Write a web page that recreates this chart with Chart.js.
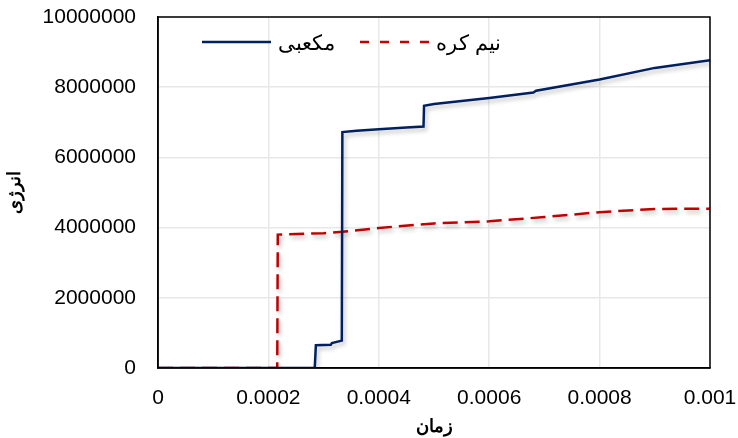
<!DOCTYPE html>
<html>
<head>
<meta charset="utf-8">
<script src="https://cdn.jsdelivr.net/npm/chart.js@4.4.1/dist/chart.umd.min.js"></script>
<style>
    body { margin: 0; background: #fff; }
    #wrap { width: 738px; height: 438px; }
</style>
</head>
<body>
<div id="wrap"><canvas id="chart"></canvas></div>
<script>
// time values and energies
const cubeTime = [0, 0.000284, 0.000286, 0.000313, 0.000315, 0.000333, 0.000334, 0.00036, 0.0004, 0.00045, 0.000481, 0.000482, 0.0005, 0.0006, 0.00068, 0.000685, 0.0008, 0.0009, 0.001];
const cubeEnergy = [0, 0, 650000, 660000, 710000, 780000, 6720000, 6760000, 6800000, 6850000, 6880000, 7470000, 7520000, 7690000, 7850000, 7900000, 8220000, 8550000, 8770000];

const hemiTime = [0, 0.000216, 0.000217, 0.0003, 0.000334, 0.0004, 0.0005, 0.0006, 0.0007, 0.0008, 0.0009, 0.001];
const hemiEnergy = [0, 0, 3800000, 3840000, 3880000, 3990000, 4120000, 4180000, 4300000, 4440000, 4530000, 4540000];

const labels = ["مکعبی", "نیم کره"];
const xTicks = [0, 0.0002, 0.0004, 0.0006, 0.0008, 0.001];

function toPoints(xs, ys) {
    return xs.map((x, i) => ({ x: x, y: ys[i] }));
}

const font = "'Liberation Sans', Arial, sans-serif";

// soft shadow under the lines, like the original
const shadowPlugin = {
    id: "shadow",
    beforeDatasetsDraw(chart) {
        const ctx = chart.ctx;
        ctx.save();
        ctx.shadowColor = "rgba(0,0,0,0.25)";
        ctx.shadowBlur = 4;
        ctx.shadowOffsetX = 2;
        ctx.shadowOffsetY = 3;
    },
    afterDatasetsDraw(chart) {
        chart.ctx.restore();
    }
};

// black frame round the plot area + one-row legend inside it
const framePlugin = {
    id: "frame",
    afterDraw(chart) {
        const a = chart.chartArea;
        const ctx = chart.ctx;
        ctx.save();
        ctx.strokeStyle = "#000";
        ctx.lineWidth = 1.5;
        ctx.strokeRect(a.left, a.top, a.right - a.left, a.bottom - a.top);

        // legend: line sample then label, two items side by side
        const startX = [a.left + 44, a.left + 202];
        const y = a.top + 25;
        ctx.font = "21px " + font;
        ctx.textBaseline = "middle";
        ctx.textAlign = "left";
        chart.data.datasets.forEach((ds, i) => {
            const x = startX[i];
            ctx.beginPath();
            ctx.strokeStyle = ds.borderColor;
            ctx.lineWidth = ds.borderWidth;
            ctx.setLineDash(ds.borderDash ? [9, 11] : []);
            ctx.moveTo(x, y);
            ctx.lineTo(x + 69, y);
            ctx.stroke();
            ctx.setLineDash([]);
            ctx.fillStyle = "#000";
            ctx.fillText(ds.label, x + 76, y + 2);
        });
        ctx.restore();
    }
};

new Chart(document.getElementById("chart"), {
    type: "scatter",
    data: {
        datasets: [
            {
                label: labels[0],
                data: toPoints(cubeTime, cubeEnergy),
                showLine: true,
                borderColor: "#002060",
                backgroundColor: "#002060",
                borderWidth: 2.5,
                pointRadius: 0,
                tension: 0
            },
            {
                label: labels[1],
                data: toPoints(hemiTime, hemiEnergy),
                showLine: true,
                borderColor: "#c00000",
                backgroundColor: "#c00000",
                borderWidth: 2.5,
                borderDash: [15, 7],
                pointRadius: 0,
                tension: 0
            }
        ]
    },
    options: {
        responsive: true,
        maintainAspectRatio: false,
        animation: false,
        layout: { padding: { top: 17, right: 28, left: 0, bottom: 0 } },
        plugins: {
            tooltip: { enabled: false },
            legend: { display: false }
        },
        scales: {
            x: {
                type: "linear",
                min: 0,
                max: 0.001,
                afterBuildTicks: (s) => { s.ticks = xTicks.map(v => ({ value: v })); },
                afterFit: (s) => {
                    s.height = 70;
                    s.paddingLeft = 0;
                    s.paddingRight = 0;
                },
                grid: { color: "#e8e8e8", lineWidth: 1.5, drawTicks: false },
                border: { color: "#000", width: 1.5 },
                ticks: {
                    color: "#000",
                    padding: 18,
                    maxRotation: 0,
                    font: { family: font, size: 21 },
                    callback: (v) => String(Number(v.toFixed(4)))
                },
                title: {
                    display: true,
                    text: "زمان",
                    color: "#000",
                    padding: 0,
                    font: { family: font, size: 18, weight: "bold" }
                }
            },
            y: {
                min: 0,
                max: 10000000,
                afterFit: (s) => {
                    s.width = 158;
                    s.paddingTop = 0;
                    s.paddingBottom = 0;
                },
                grid: { color: "#e8e8e8", lineWidth: 1.5, drawTicks: false },
                border: { color: "#000", width: 1.5 },
                ticks: {
                    stepSize: 2000000,
                    color: "#000",
                    padding: 22,
                    font: { family: font, size: 21 },
                    callback: (v) => String(v)
                },
                title: {
                    display: true,
                    text: "انرژی",
                    color: "#000",
                    padding: { top: 4, bottom: 0 },
                    font: { family: font, size: 18, weight: "bold" }
                }
            }
        }
    },
    plugins: [shadowPlugin, framePlugin]
});
</script>
</body>
</html>
